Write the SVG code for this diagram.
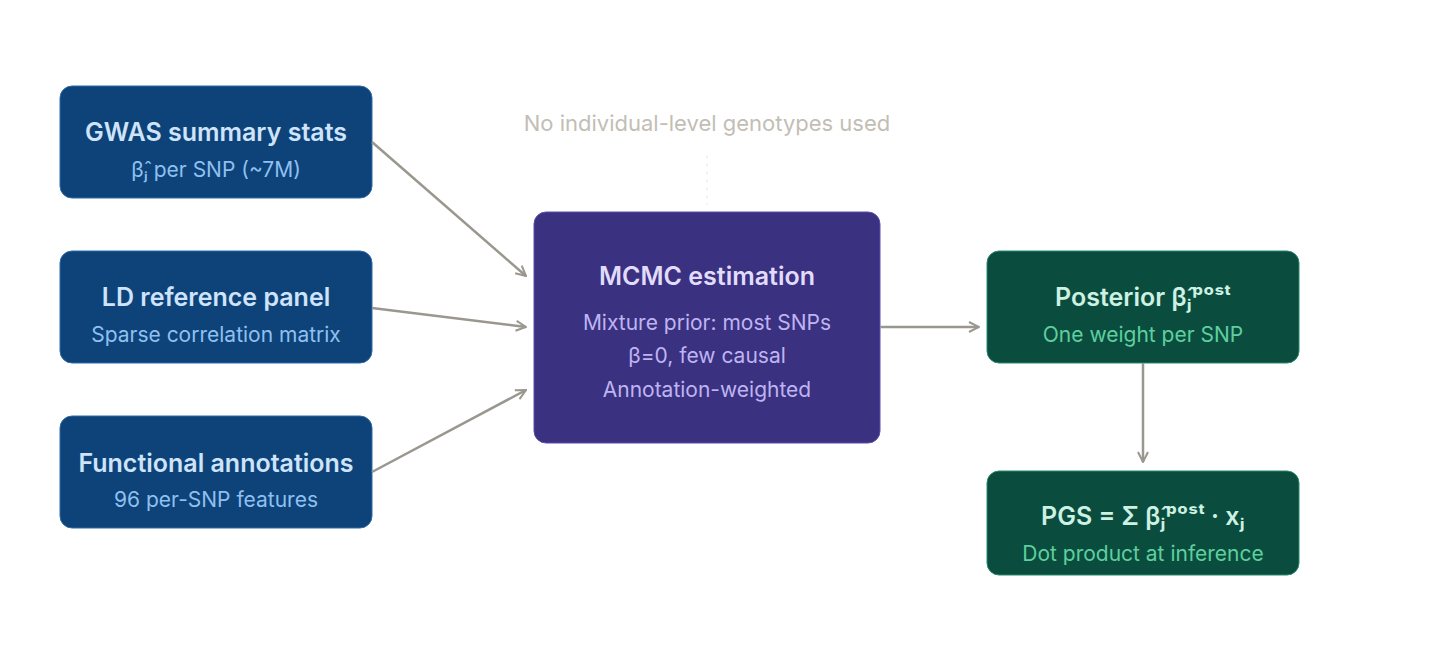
<svg xmlns="http://www.w3.org/2000/svg" width="1440" height="656" viewBox="0 0 1440 656">
<defs>
<marker id="ah" viewBox="0 0 12 12" refX="11" refY="6" markerWidth="12" markerHeight="12" markerUnits="userSpaceOnUse" orient="auto"><path d="M1,1 L11,6 L1,11" fill="none" stroke="#9a978f" stroke-width="2"/></marker>
<style>
text{font-family:Inter,"Noto Sans",sans-serif;text-anchor:middle}
.t{font-size:25px;font-weight:600}
.s{font-size:21px}
.blue rect{fill:#0d4379;stroke:#2f6aa8;stroke-width:1}
.blue .t{fill:#cfe3fa}.blue .s{fill:#8fc0f0}
.green rect{fill:#0a4d3e;stroke:#2a8a6c;stroke-width:1}
.green .t{fill:#cdf1e2}.green .s{fill:#5fcf9f}
.conn line{stroke:#9a978f;stroke-width:2.5;marker-end:url(#ah)}
</style>
</defs>
<rect width="1440" height="656" fill="#ffffff"/>
<text x="707" y="131" style="font-size:22px;fill:#c2beb5">No individual-level genotypes used</text>
<line x1="707" y1="155" x2="707" y2="205" stroke="#ece9e3" stroke-width="1" stroke-dasharray="4 4"/>
<g id="gwas" class="blue"><rect x="60" y="86" width="312" height="112" rx="12"/><text class="t" x="216" y="141">GWAS summary stats</text><text class="s" x="216" y="177">β̂ⱼ per SNP (~7M)</text></g>
<g id="ld" class="blue"><rect x="60" y="251" width="312" height="112" rx="12"/><text class="t" x="216" y="306">LD reference panel</text><text class="s" x="216" y="342">Sparse correlation matrix</text></g>
<g id="func" class="blue"><rect x="60" y="416" width="312" height="112" rx="12"/><text class="t" x="216" y="472">Functional annotations</text><text class="s" x="216" y="507">96 per-SNP features</text></g>
<g id="mcmc"><rect x="534" y="212" width="346" height="231" rx="12" fill="#3a3180" stroke="#5a4fb0"/><text class="t" x="707" y="285" fill="#e2dcfb">MCMC estimation</text><text class="s" x="707" y="330" fill="#bfb4f2">Mixture prior: most SNPs</text><text class="s" x="707" y="363" fill="#bfb4f2">β=0, few causal</text><text class="s" x="707" y="397" fill="#bfb4f2">Annotation-weighted</text></g>
<g id="post" class="green"><rect x="987" y="251" width="312" height="112" rx="12"/><text class="t" x="1143" y="306">Posterior β̂ⱼᵖᵒˢᵗ</text><text class="s" x="1143" y="342">One weight per SNP</text></g>
<g id="pgs" class="green"><rect x="987" y="471" width="312" height="104" rx="12"/><text class="t" x="1143" y="525">PGS = Σ β̂ⱼᵖᵒˢᵗ · xⱼ</text><text class="s" x="1143" y="561">Dot product at inference</text></g>
<g class="conn">
<line x1="372" y1="142" x2="526" y2="276"/>
<line x1="372" y1="308" x2="526" y2="327"/>
<line x1="372" y1="472" x2="526" y2="390"/>
<line x1="880" y1="327" x2="979" y2="327"/>
<line x1="1143" y1="363" x2="1143" y2="462"/>
</g>
</svg>
